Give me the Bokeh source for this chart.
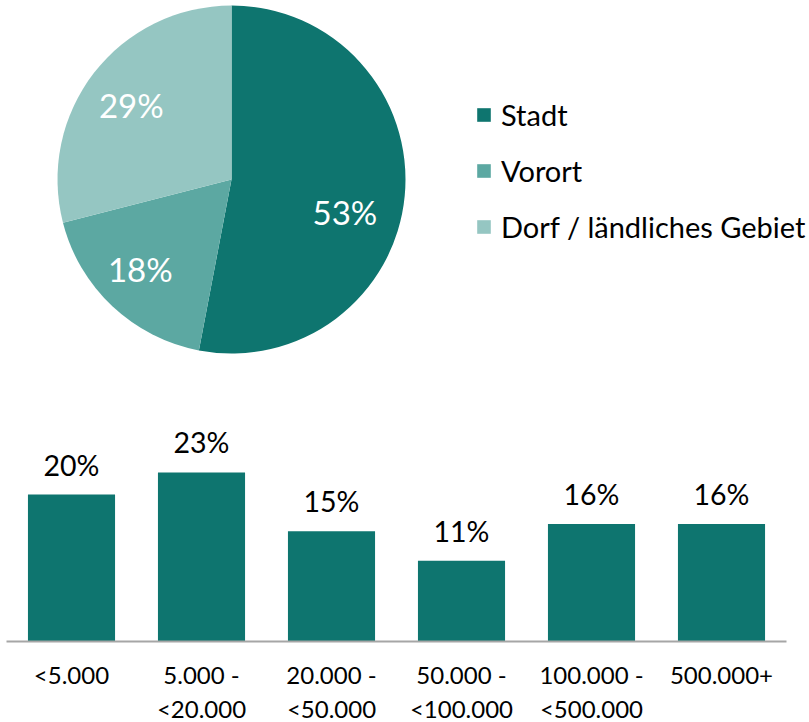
import numpy as np
from bokeh.plotting import figure
from bokeh.models import Range1d, FactorRange, ColumnDataSource, Legend, LegendItem, LabelSet
from bokeh.embed import file_html
from bokeh.resources import INLINE
from bokeh.core.properties import value

# ---- data ----
pie_labels = ["Stadt", "Vorort", "Dorf / ländliches Gebiet"]
pie_values = [53, 18, 29]
pie_colors = ["#0e756f", "#5ca8a2", "#95c6c2"]

bar_categories = ["<5.000", "5.000 -\n<20.000", "20.000 -\n<50.000",
                  "50.000 -\n<100.000", "100.000 -\n<500.000", "500.000+"]
bar_values = [20, 23, 15, 11, 16, 16]
bar_color = "#0e756f"

FONT = "Lato"
W = 809
H_TOP = 370
FRAME_H = 271
AXIS_H = 87

# ---- pie ----
top = figure(width=W, height=H_TOP, x_range=Range1d(0, W), y_range=Range1d(0, H_TOP),
             output_backend="svg", toolbar_location=None, min_border=0)
top.axis.visible = False
top.grid.visible = False
top.outline_line_color = None

cx, cy, r = 231, H_TOP - 179, 174
vals = np.array(pie_values, dtype=float)
frac = vals / vals.sum()
cum = np.concatenate([[0.0], np.cumsum(frac)])
start = np.pi / 2 - cum[:-1] * 2 * np.pi
end = np.pi / 2 - cum[1:] * 2 * np.pi
mid = (start + end) / 2
lr = 123
label_dx = [-9, -7, -3]
label_dy = [-21, 0, -1]
pie_src = ColumnDataSource(dict(
    start=start, end=end, color=pie_colors, name=pie_labels,
    lx=cx + lr * np.cos(mid) + np.array(label_dx),
    ly=cy + lr * np.sin(mid) + np.array(label_dy),
    txt=[f"{v}%" for v in pie_values],
    x=[cx] * 3, y=[cy] * 3,
))
wr = top.wedge(x="x", y="y", radius=r, start_angle="start", end_angle="end",
               direction="clock", fill_color="color", line_color=None, source=pie_src)
top.add_layout(LabelSet(x="lx", y="ly", text="txt", source=pie_src, text_color="white",
                        text_font=value(FONT), text_font_size="33px",
                        text_align="center", text_baseline="middle"))

legend = Legend(items=[LegendItem(label=pie_labels[i], renderers=[wr], index=i) for i in range(3)],
                location=(475, 126), orientation="vertical",
                glyph_width=17, glyph_height=17, label_standoff=9, spacing=21,
                padding=0, margin=0, border_line_color=None, background_fill_alpha=0,
                label_text_font=FONT, label_text_font_size="29px", label_text_color="black")
top.add_layout(legend)

# ---- bars ----
ymax = FRAME_H / 7.35
bot = figure(width=W, frame_height=FRAME_H,
             x_range=FactorRange(*bar_categories, range_padding=0),
             y_range=Range1d(0, ymax), output_backend="svg", toolbar_location=None,
             min_border_left=6, min_border_right=W - 786, min_border_top=0,
             min_border_bottom=AXIS_H)
bot.grid.visible = False
bot.outline_line_color = None
bot.yaxis.visible = False
bar_src = ColumnDataSource(dict(cat=bar_categories, val=bar_values,
                                txt=[f"{v}%" for v in bar_values]))
bot.vbar(x="cat", top="val", width=0.67, fill_color=bar_color, line_color=None, source=bar_src)
bot.add_layout(LabelSet(x="cat", y="val", text="txt", source=bar_src, text_color="black",
                        text_font=value(FONT), text_font_size="28.5px",
                        text_align="center", text_baseline="alphabetic", y_offset=19))
ax = bot.xaxis[0]
ax.axis_line_color = "#a6a6a6"
ax.axis_line_width = 2
ax.major_tick_line_color = None
ax.minor_tick_line_color = None
ax.major_label_text_font = FONT
ax.major_label_text_font_size = "24px"
ax.major_label_text_color = "black"
ax.major_label_standoff = 12

open("out.html", "w").write(file_html([top, bot], INLINE))
